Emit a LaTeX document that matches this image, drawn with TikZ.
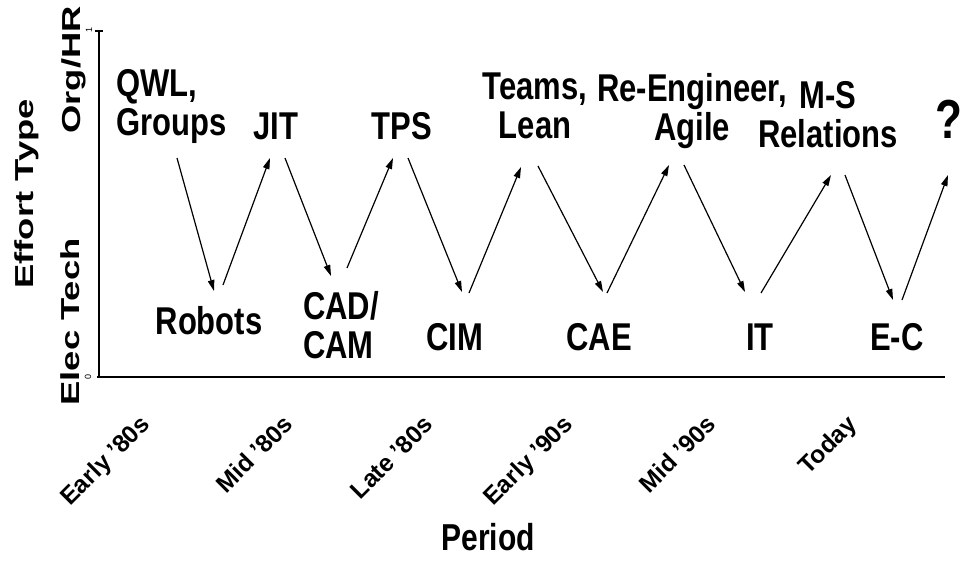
\documentclass[tikz,border=0pt]{standalone}
\usepackage{fontspec}
\setmainfont{Liberation Sans}
\usetikzlibrary{arrows.meta}
\newcommand\vst[1]{\scalebox{1}[1.25]{#1}}
\begin{document}
\begin{tikzpicture}[x=1pt,y=-1pt,
  lbl/.style={inner sep=0pt,font=\bfseries\fontsize{31}{39}\selectfont},
  per/.style={inner sep=0pt,anchor=north east,font=\bfseries\fontsize{24.5}{28}\selectfont},
  ttl/.style={inner sep=0pt,anchor=base,rotate=90,font=\bfseries\fontsize{26}{30}\selectfont},
  tiny/.style={inner sep=0pt,rotate=90,font=\fontsize{9}{10}\selectfont},
  axis/.style={line width=2pt},
  arr/.style={line width=1.2pt,-{Triangle[length=11pt,width=6.5pt]}}]
\useasboundingbox (0,0) rectangle (964,562);
\fill[white] (0,0) rectangle (964,562);
% axes
\coordinate (ytop) at (99,31);
\coordinate (orig) at (99,377);
\coordinate (xstart) at (97,377);
\coordinate (xend) at (945,377);
\coordinate (tl) at (95,31);
\coordinate (tr) at (103,31);
\draw[axis] (ytop) -- (orig);
\draw[axis] (xstart) -- (xend);
\draw[line width=1.2pt] (tl) -- (tr);
\node[tiny] (one) at (89,30) {1};
\node[tiny] (zero) at (88,377) {0};
% axis titles
\node[ttl] (effort) at (34,194) {\scalebox{1.4}[1]{Effort Type}};
\node[ttl] (orghr) at (80,70) {\scalebox{1.4}[1]{Org/HR}};
\node[ttl] (elec) at (79,322) {\scalebox{1.4}[1]{Elec Tech}};
\node[inner sep=0pt,anchor=base,font=\bfseries\fontsize{30}{34}\selectfont] (period) at (488,550) {\vst{Period}};
% period labels
\node[per] (p1) at (155,413) {\rotatebox{45}{Early '80s}};
\node[per] (p2) at (295,413) {\rotatebox{45}{Mid '80s}};
\node[per] (p3) at (435,414) {\rotatebox{45}{Late '80s}};
\node[per] (p4) at (578,413) {\rotatebox{45}{Early '90s}};
\node[per] (p5) at (718,413) {\rotatebox{45}{Mid '90s}};
\node[per] (p6) at (862,413) {\rotatebox{45}{Today}};
% top labels
\node[lbl,anchor=north west,align=left] (qwl) at (116,69) {\vst{QWL,}\\\vst{Groups}};
\node[lbl,anchor=base] (jit) at (276,139) {\vst{JIT}};
\node[lbl,anchor=base] (tps) at (402,139) {\vst{TPS}};
\node[lbl,anchor=north,align=center] (teams) at (535,73) {\vst{Teams,}\\\vst{Lean}};
\node[lbl,anchor=north,align=center] (reeng) at (692,73) {\vst{Re-Engineer,}\\\vst{Agile}};
\node[lbl,anchor=north,align=center] (ms) at (828,81) {\vst{M-S}\\\vst{Relations}};
\node[inner sep=0pt,anchor=base,font=\bfseries\fontsize{44}{50}\selectfont] (q) at (949,138) {\vst{?}};
% bottom labels
\node[lbl,anchor=base] (robots) at (209,334) {\vst{Robots}};
\node[lbl,anchor=north west,align=left] (cad) at (303,291) {\vst{CAD/}\\\vst{CAM}};
\node[lbl,anchor=base] (cim) at (455,350) {\vst{CIM}};
\node[lbl,anchor=base] (cae) at (599,350) {\vst{CAE}};
\node[lbl,anchor=base] (it) at (760,350) {\vst{IT}};
\node[lbl,anchor=base] (ec) at (897,350) {\vst{E-C}};
% arrow end points
\coordinate (a1s) at (177,158); \coordinate (a1e) at (214,291);
\coordinate (a2s) at (223,285); \coordinate (a2e) at (270,158);
\coordinate (a3s) at (285,158); \coordinate (a3e) at (331,276);
\coordinate (a4s) at (347,268); \coordinate (a4e) at (393,158);
\coordinate (a5s) at (408,158); \coordinate (a5e) at (462,292);
\coordinate (a6s) at (469,293); \coordinate (a6e) at (521,167);
\coordinate (a7s) at (538,166); \coordinate (a7e) at (603,292);
\coordinate (a8s) at (607,293); \coordinate (a8e) at (669,165);
\coordinate (a9s) at (684,165); \coordinate (a9e) at (745,292);
\coordinate (a10s) at (761,293); \coordinate (a10e) at (831,175);
\coordinate (a11s) at (845,175); \coordinate (a11e) at (893,300);
\coordinate (a12s) at (902,300); \coordinate (a12e) at (948,175);
\foreach \i in {1,...,12} {\draw[arr] (a\i s) -- (a\i e);}
\end{tikzpicture}
\end{document}
